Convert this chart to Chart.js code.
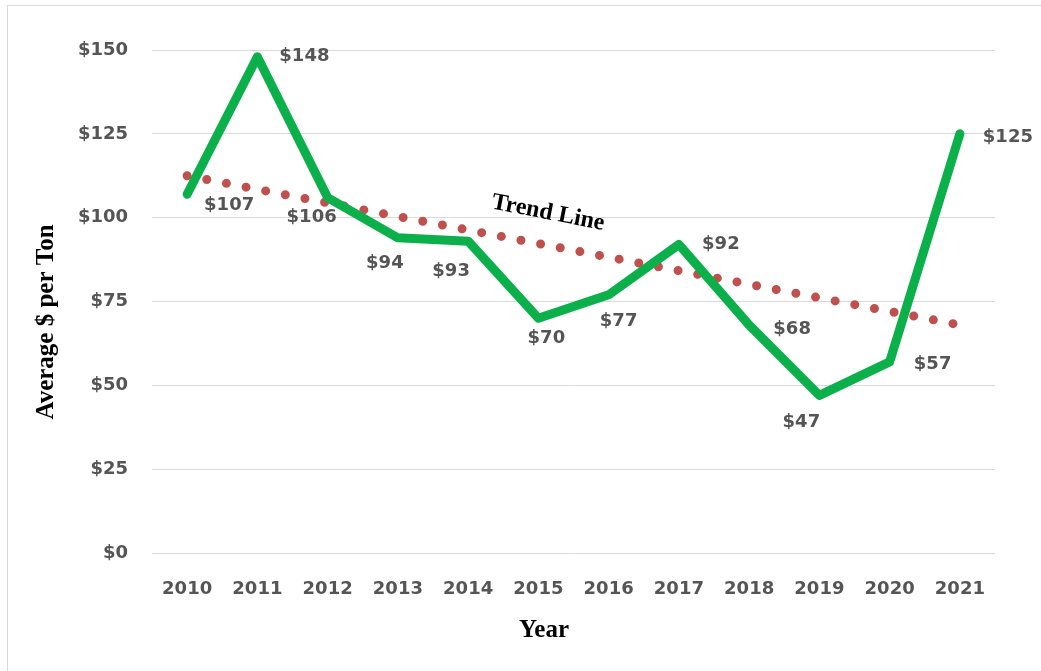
<!DOCTYPE html>
<html>
<head>
<meta charset="utf-8">
<script src="https://cdn.jsdelivr.net/npm/chart.js@4.4.1/dist/chart.umd.min.js"></script>
<style>
  html, body { margin: 0; padding: 0; background: #fff; }
  #wrap { width: 1041px; height: 671px; position: relative; }
</style>
</head>
<body>
<div id="wrap"><canvas id="chart" width="1041" height="671"></canvas></div>
<script>
// --- Datos ---
const years = ['2010', '2011', '2012', '2013', '2014', '2015', '2016', '2017', '2018', '2019', '2020', '2021'];
const pricePerTon = [107, 148, 106, 94, 93, 70, 77, 92, 68, 47, 57, 125];
// linea de tendencia: solo los extremos
const trendLine = [112.5, null, null, null, null, null, null, null, null, null, null, 68];
const yTicks = [0, 25, 50, 75, 100, 125, 150];

// desplazamiento de cada etiqueta respecto a su punto (px)
const labelOffsets = [
    [42, 11], [47, 0], [-16, 20], [-13, 26], [-17, 30], [8, 20],
    [10, 27], [42, 0], [43, 4], [-18, 27], [43, 2], [48, 3]
];

const tickFont = { family: 'DejaVu Sans', weight: 'bold', size: 18 };
const tickColor = '#555555';

const extras = {
    id: 'extras',
    beforeDraw(chart) {
        const c = chart.ctx;
        c.save();
        c.strokeStyle = '#d9d9d9';
        c.lineWidth = 1;
        c.strokeRect(7.5, 5.5, 1100, 800);
        c.restore();
    },
    afterDatasetsDraw(chart) {
        const c = chart.ctx;
        const meta = chart.getDatasetMeta(0);
        c.save();
        c.font = 'bold 18px "DejaVu Sans"';
        c.fillStyle = tickColor;
        c.textAlign = 'center';
        c.textBaseline = 'middle';
        meta.data.forEach((pt, i) => {
            const off = labelOffsets[i];
            c.fillText('$' + pricePerTon[i], pt.x + off[0], pt.y + off[1]);
        });

        // titulos de ejes
        c.fillStyle = '#000';
        c.font = 'bold 25px "Liberation Serif"';
        c.fillText('Year', 544, 631);
        c.save();
        c.translate(47, 322);
        c.rotate(-Math.PI / 2);
        c.fillText('Average $ per Ton', 0, 0);
        c.restore();

        // etiqueta de la tendencia
        c.save();
        c.font = 'bold 24px "Liberation Serif"';
        c.translate(548, 213);
        c.rotate(11 * Math.PI / 180);
        c.fillText('Trend Line', 0, 0);
        c.restore();
        c.restore();
    }
};

new Chart(document.getElementById('chart'), {
    type: 'line',
    data: {
        labels: years,
        datasets: [{
            label: 'Average $ per Ton',
            data: pricePerTon,
            borderColor: '#0bb04b',
            borderWidth: 9,
            borderJoinStyle: 'round',
            borderCapStyle: 'round',
            pointRadius: 0,
            tension: 0,
            order: 1
        }, {
            label: 'Trend Line',
            data: trendLine,
            spanGaps: true,
            borderColor: '#c0504d',
            borderWidth: 9,
            borderDash: [0, 20],
            borderCapStyle: 'round',
            pointRadius: 0,
            order: 2
        }]
    },
    options: {
        responsive: false,
        animation: false,
        layout: { padding: { top: 50, right: 46, left: 0, bottom: 0 } },
        plugins: { legend: { display: false }, tooltip: { enabled: false } },
        scales: {
            x: {
                offset: true,
                grid: { display: false },
                border: { display: false },
                ticks: { font: tickFont, color: tickColor, padding: 18 },
                afterFit(scale) { scale.height = 118; }
            },
            y: {
                min: 0,
                max: 150,
                afterBuildTicks(scale) { scale.ticks = yTicks.map(v => ({ value: v })); },
                grid: { color: '#d9d9d9', lineWidth: 1, drawTicks: false },
                border: { display: false },
                ticks: {
                    font: tickFont,
                    color: tickColor,
                    padding: 24,
                    callback: v => '$' + v
                },
                afterFit(scale) { scale.width = 152; }
            }
        }
    },
    plugins: [extras]
});
</script>
</body>
</html>
